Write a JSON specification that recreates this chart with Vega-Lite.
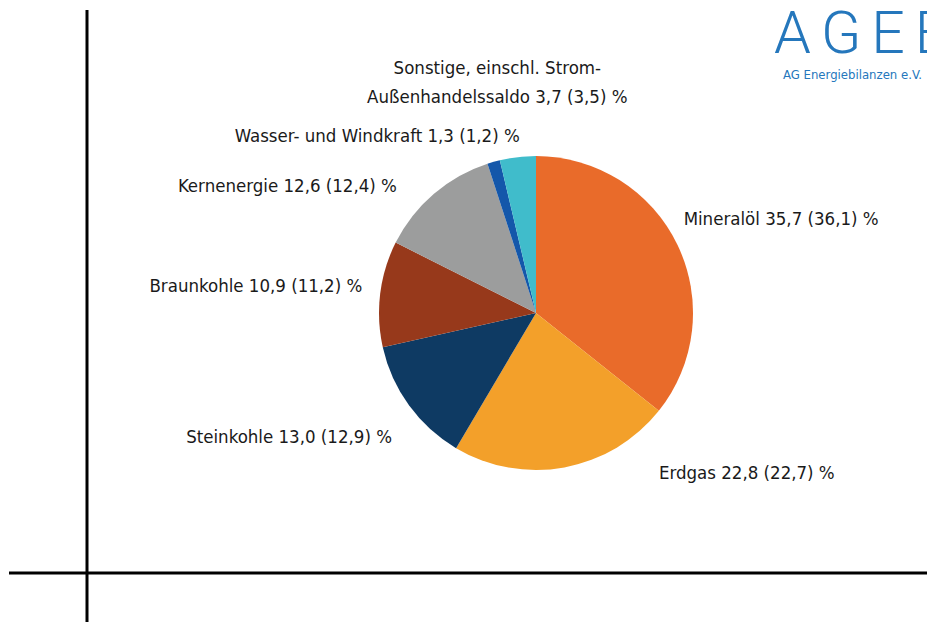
{
  "$schema": "https://vega.github.io/schema/vega-lite/v6.json",
  "width": 927,
  "height": 622,
  "autosize": {"type": "none"},
  "padding": 0,
  "background": "white",
  "config": {"view": {"stroke": null}, "text": {"font": "DejaVu Sans Condensed", "fontSize": 18.5, "color": "#1a1a1a"}},
  "data": {"values": [
    {"order": 1, "cat": "Mineralöl", "value": 35.7, "label": "Mineralöl 35,7  (36,1) %"},
    {"order": 2, "cat": "Erdgas", "value": 22.8, "label": "Erdgas 22,8 (22,7) %"},
    {"order": 3, "cat": "Steinkohle", "value": 13.0, "label": "Steinkohle 13,0 (12,9) %"},
    {"order": 4, "cat": "Braunkohle", "value": 10.9, "label": "Braunkohle 10,9 (11,2) %"},
    {"order": 5, "cat": "Kernenergie", "value": 12.6, "label": "Kernenergie 12,6 (12,4) %"},
    {"order": 6, "cat": "Wasser- und Windkraft", "value": 1.3, "label": "Wasser- und Windkraft 1,3 (1,2) %"},
    {"order": 7, "cat": "Sonstige", "value": 3.7, "label": "Sonstige, einschl. Strom-\nAußenhandelssaldo 3,7 (3,5) %"}
  ]},
  "encoding": {
    "x": {"datum": 536, "type": "quantitative", "scale": {"domain": [0, 927]}, "axis": null},
    "y": {"datum": 313, "type": "quantitative", "scale": {"domain": [0, 622], "reverse": true}, "axis": null}
  },
  "layer": [
    {
      "data": {"values": [{}]},
      "mark": {"type": "rule", "color": "#000000", "strokeWidth": 3},
      "encoding": {"x": {"datum": 87, "type": "quantitative"}, "y": {"datum": 10, "type": "quantitative"}, "y2": {"datum": 622}}
    },
    {
      "data": {"values": [{}]},
      "mark": {"type": "rule", "color": "#000000", "strokeWidth": 3},
      "encoding": {"y": {"datum": 573, "type": "quantitative"}, "x": {"datum": 9, "type": "quantitative"}, "x2": {"datum": 927}}
    },
    {
      "mark": {"type": "arc", "radius": 157},
      "encoding": {
        "theta": {"field": "value", "type": "quantitative", "stack": true, "scale": {"domain": [0, 100]}},
        "order": {"field": "order", "type": "quantitative"},
        "color": {"field": "cat", "type": "nominal", "legend": null,
          "scale": {"domain": ["Mineralöl", "Erdgas", "Steinkohle", "Braunkohle", "Kernenergie", "Wasser- und Windkraft", "Sonstige"],
                    "range": ["#E96B2A", "#F3A02A", "#0E3A63", "#97391B", "#9C9D9D", "#1457AA", "#40BCCB"]}}
      }
    },
    {
      "mark": {"type": "text", "radius": 175, "align": "left", "baseline": "middle", "dx": -10, "dy": -18},
      "encoding": {
        "theta": {"field": "value", "type": "quantitative", "stack": true},
        "order": {"field": "order", "type": "quantitative"},
        "text": {"condition": {"test": "datum.cat === 'Mineralöl'", "field": "label"}, "value": ""}
      }
    },
    {
      "mark": {"type": "text", "radius": 165, "align": "left", "baseline": "middle", "dx": 93, "dy": -2},
      "encoding": {
        "theta": {"field": "value", "type": "quantitative", "stack": true},
        "order": {"field": "order", "type": "quantitative"},
        "text": {"condition": {"test": "datum.cat === 'Erdgas'", "field": "label"}, "value": ""}
      }
    },
    {
      "mark": {"type": "text", "radius": 178, "align": "right", "baseline": "middle", "dx": 0, "dy": 19},
      "encoding": {
        "theta": {"field": "value", "type": "quantitative", "stack": true},
        "order": {"field": "order", "type": "quantitative"},
        "text": {"condition": {"test": "datum.cat === 'Steinkohle'", "field": "label"}, "value": ""}
      }
    },
    {
      "mark": {"type": "text", "radius": 175, "align": "right", "baseline": "middle", "dx": 0, "dy": -6},
      "encoding": {
        "theta": {"field": "value", "type": "quantitative", "stack": true},
        "order": {"field": "order", "type": "quantitative"},
        "text": {"condition": {"test": "datum.cat === 'Braunkohle'", "field": "label"}, "value": ""}
      }
    },
    {
      "mark": {"type": "text", "radius": 175, "align": "right", "baseline": "middle", "dx": -25, "dy": 6},
      "encoding": {
        "theta": {"field": "value", "type": "quantitative", "stack": true},
        "order": {"field": "order", "type": "quantitative"},
        "text": {"condition": {"test": "datum.cat === 'Kernenergie'", "field": "label"}, "value": ""}
      }
    },
    {
      "mark": {"type": "text", "radius": 175, "align": "right", "baseline": "middle", "dx": 31, "dy": -8},
      "encoding": {
        "theta": {"field": "value", "type": "quantitative", "stack": true},
        "order": {"field": "order", "type": "quantitative"},
        "text": {"condition": {"test": "datum.cat === 'Wasser- und Windkraft'", "field": "label"}, "value": ""}
      }
    },
    {
      "mark": {"type": "text", "radius": 230, "align": "center", "baseline": "middle", "lineBreak": "\n", "lineHeight": 29, "dx": -12, "dy": -17},
      "encoding": {
        "theta": {"field": "value", "type": "quantitative", "stack": true},
        "order": {"field": "order", "type": "quantitative"},
        "text": {"condition": {"test": "datum.cat === 'Sonstige'", "field": "label"}, "value": ""}
      }
    },
    {
      "data": {"values": [{"t": "A\u2006G\u2006E\u2006B"}]},
      "mark": {"type": "text", "align": "left", "baseline": "alphabetic", "fontSize": 59, "fontWeight": 300, "color": "#2577BC", "font": "Roboto"},
      "encoding": {"x": {"datum": 774, "type": "quantitative"}, "y": {"datum": 53, "type": "quantitative"}, "text": {"field": "t"}}
    },
    {
      "data": {"values": [{"t": "AG Energiebilanzen e.V."}]},
      "mark": {"type": "text", "align": "left", "baseline": "alphabetic", "fontSize": 13, "color": "#2577BC", "font": "DejaVu Sans Condensed"},
      "encoding": {"x": {"datum": 783, "type": "quantitative"}, "y": {"datum": 79, "type": "quantitative"}, "text": {"field": "t"}}
    }
  ]
}
